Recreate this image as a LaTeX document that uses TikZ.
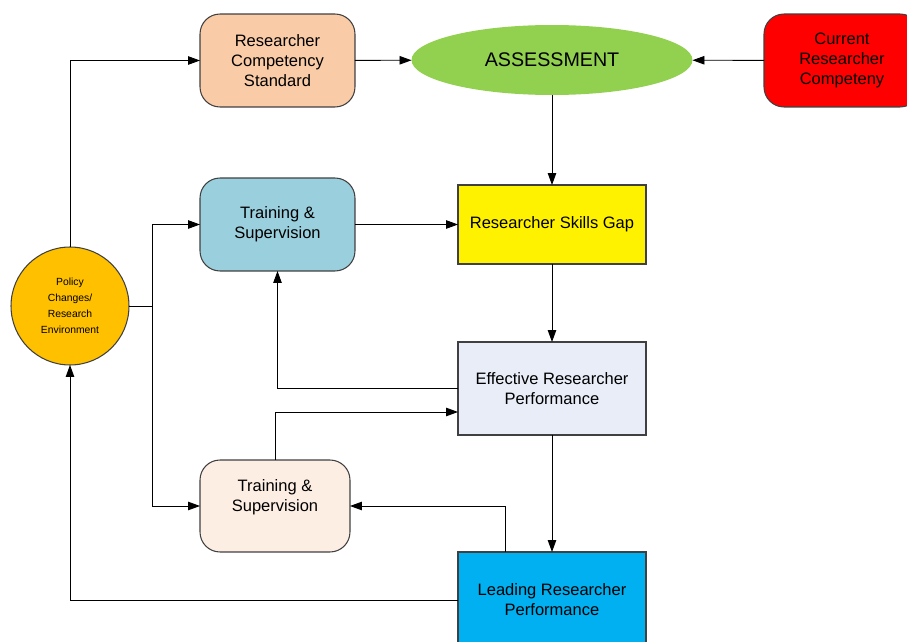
\documentclass[tikz,border=0pt]{standalone}
\usepackage{fontspec}
\setmainfont{Liberation Sans}
\usetikzlibrary{arrows.meta,shapes.geometric}
\definecolor{peach}{HTML}{F9CBA7}
\definecolor{grass}{HTML}{92D050}
\definecolor{teal}{HTML}{9ACFDD}
\definecolor{mist}{HTML}{E8EDF8}
\definecolor{cream}{HTML}{FDEEE4}
\definecolor{sky}{HTML}{00B0F0}
\definecolor{amber}{HTML}{FFC000}
\definecolor{edge}{HTML}{404040}

\begin{document}
\begin{tikzpicture}[x=0.02cm,y=-0.02cm,
    box/.style={draw=edge,line width=0.6pt,inner sep=0pt,outer sep=0pt,align=center,
      font=\fontsize{9.4}{11.3}\selectfont},
    roundbox/.style={box,rounded corners=0.4cm,minimum width=3.1cm,minimum height=1.86cm},
    squarebox/.style={box,minimum width=3.76cm,minimum height=1.86cm},
    link/.style={draw=black,line width=0.5pt,-{Triangle[length=0.24cm,width=0.17cm]}}]
  \useasboundingbox (0,0) rectangle (907,642);
  % boxes
  \node[roundbox,fill=peach] (std) at (277.5,60.5) {Researcher\\Competency\\Standard};
  \node[box,ellipse,draw=none,fill=grass,minimum width=5.62cm,minimum height=1.4cm,
    font=\fontsize{11.2}{13}\selectfont] (asm) at (552,60) {ASSESSMENT};
  \node[roundbox,fill=red,minimum width=3.12cm] (cur) at (842,60.5) {Current\\Researcher\\Competeny};
  \node[roundbox,fill=teal] (trn1) at (277.5,224.5) {Training \&\\Supervision};
  \node[squarebox,fill=yellow,minimum height=1.58cm] (gap) at (552,224.5) {Researcher Skills Gap};
  \node[box,circle,fill=amber,minimum size=2.36cm,font=\fontsize{5.9}{9.1}\selectfont] (pol) at (70,306)
    {Policy\\Changes/\\Research\\Environment};
  \node[squarebox,fill=mist] (eff) at (552,388.5) {Effective Researcher\\Performance};
  \node[roundbox,fill=cream,minimum width=3cm,minimum height=1.84cm,text depth=0.42cm] (trn2) at (275,506)
    {Training \&\\Supervision};
  \node[squarebox,fill=sky,minimum height=1.92cm] (lead) at (552,600) {Leading Researcher\\Performance};
  % connectors
  \coordinate (split) at (152,306);
  \draw[link] (pol.north) |- (std.west);
  \draw[link] (std) -- (asm);
  \draw[link] (cur) -- (asm);
  \draw[link] (asm) -- (gap);
  \draw[link] (trn1) -- (gap);
  \draw[link] (gap) -- (eff);
  \draw[line width=0.5pt] (pol.east) -- (split);
  \draw[link] (split) |- (trn1.west);
  \draw[link] (split) |- (trn2.west);
  \draw[link] (eff.west) -| (trn1.south);
  \draw[link] (trn2.north) |- ([yshift=-0.47cm]eff.west);
  \draw[link] (eff) -- (lead);
  \draw[link] ([xshift=-0.94cm]lead.north) |- (trn2.east);
  \draw[link] (lead.west) -| (pol.south);
\end{tikzpicture}
\end{document}
